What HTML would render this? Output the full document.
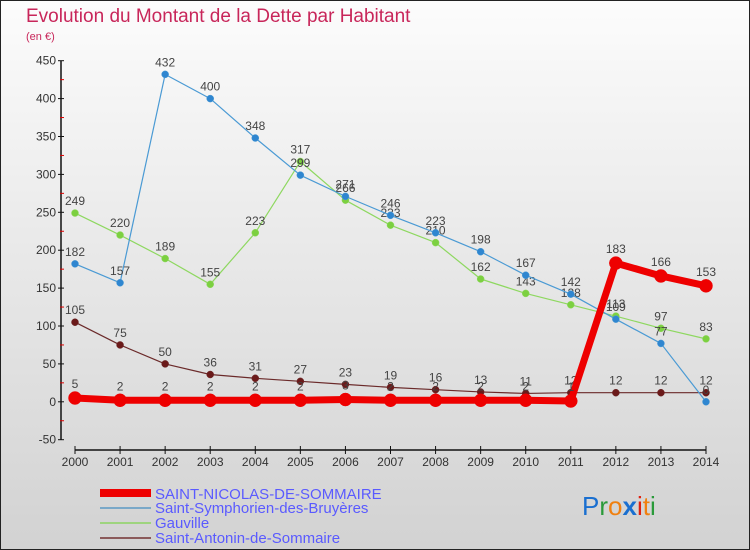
<!DOCTYPE html>
<html><head><meta charset="utf-8"><style>
html,body{margin:0;padding:0}
body{width:750px;height:550px;overflow:hidden;font-family:"Liberation Sans",sans-serif}
svg{display:block}
</style></head><body>
<svg width="750" height="550" viewBox="0 0 750 550" xmlns="http://www.w3.org/2000/svg">
<defs><linearGradient id="bg" x1="0" y1="0" x2="0" y2="1"><stop offset="0" stop-color="#fcfcfc"/><stop offset="1" stop-color="#d2d2d2"/></linearGradient></defs>
<rect x="0.5" y="0.5" width="749" height="549" fill="url(#bg)" stroke="#222"/>
<text x="26" y="22" font-size="19" fill="#c8265a">Evolution du Montant de la Dette par Habitant</text>
<text x="26" y="40" font-size="11" fill="#c8265a">(en €)</text>
<g id="axes"></g>
<g id="series"></g>
<g id="legend">
<rect x="100" y="489" width="51" height="8" fill="#e00"/>
<text x="155" y="499" font-size="15" fill="#5a5aff">SAINT-NICOLAS-DE-SOMMAIRE</text>
<rect x="100" y="507" width="51" height="2" fill="#7aa8c8"/>
<text x="155" y="513" font-size="15" fill="#5a5aff">Saint-Symphorien-des-Bruyères</text>
<rect x="100" y="522" width="51" height="2" fill="#9ed47e"/>
<text x="155" y="528" font-size="15" fill="#5a5aff">Gauville</text>
<rect x="100" y="537" width="51" height="2" fill="#8b5a5a"/>
<text x="155" y="543" font-size="15" fill="#5a5aff">Saint-Antonin-de-Sommaire</text>
</g>
<g font-size="26" font-family="Liberation Sans, sans-serif">
<text x="582" y="515"><tspan fill="#1a6fd0">P</tspan><tspan fill="#2a9a3a">r</tspan><tspan fill="#f08010">o</tspan><tspan fill="#1a6fd0" font-weight="bold">x</tspan><tspan fill="#e02010">i</tspan><tspan fill="#f08010">t</tspan><tspan fill="#2a9a3a">i</tspan></text>
</g>
</svg>
<script>
const years=[2000,2001,2002,2003,2004,2005,2006,2007,2008,2009,2010,2011,2012,2013,2014];
const yTicks=[-50,0,50,100,150,200,250,300,350,400,450];
const stNicolas=[5,2,2,2,2,2,3,2,2,2,2,1,183,166,153];
const stSymphorien=[182,157,432,400,348,299,271,246,223,198,167,142,109,77,0];
const gauville=[249,220,189,155,223,317,266,233,210,162,143,128,113,97,83];
const stAntonin=[105,75,50,36,31,27,23,19,16,13,11,12,12,12,12];
const NS="http://www.w3.org/2000/svg";
function X(i){return 75+i*(706-75)/(years.length-1);}
function Y(v){return 401.8-v*(379/500);}
function mk(tag,attrs,parent,text){const e=document.createElementNS(NS,tag);for(const k in attrs)e.setAttribute(k,attrs[k]);if(text!==undefined)e.textContent=text;parent.appendChild(e);return e;}
const axes=document.getElementById('axes');
let yl=mk('line',{x1:61,y1:Y(450),x2:61,y2:Y(-50),stroke:'#111','stroke-width':1.5},axes);


yTicks.forEach((t,i)=>{
 mk('line',{x1:58,y1:Y(t),x2:64,y2:Y(t),stroke:'#111'},axes);
 if(i<yTicks.length-1)mk('line',{x1:60,y1:Y(t+25),x2:64,y2:Y(t+25),stroke:'#d00'},axes);
 const tx=mk('text',{x:56,y:Y(t)+4,'font-size':12,'text-anchor':'end',fill:'#333'},axes,String(t));
 
 
});
let xl=mk('line',{x1:X(0),y1:450,x2:X(years.length-1),y2:450,stroke:'#111','stroke-width':1.5},axes);


years.forEach((yr,i)=>{
 mk('line',{x1:X(i),y1:446,x2:X(i),y2:454,stroke:'#111'},axes);
 const tx=mk('text',{x:X(i),y:466,'font-size':12,'text-anchor':'middle',fill:'#333'},axes,String(yr));
 
 
});
const sg=document.getElementById('series');
function draw(vals,color,w,r,name,dot){
 const g=mk('g',{},sg);
 
 
 const pl=mk('polyline',{points:vals.map((v,i)=>X(i)+','+Y(v)).join(' '),fill:'none',stroke:color,'stroke-width':w,'stroke-linejoin':'round'},g);
 
 
 vals.forEach((v,i)=>{
  const c=mk('circle',{cx:X(i),cy:Y(v),r:r,fill:dot,stroke:color,'stroke-width':0.5},g);
  
  
  const t=mk('text',{x:X(i),y:Y(v)-8-(r>5?2:0),'font-size':12,'text-anchor':'middle',fill:'#444'},g,String(v));
  
  
 });
}
draw(stAntonin,'#6b2a2a',1.2,3.5,'saint-antonin','#6b1a1a');
draw(gauville,'#8ed860',1.2,3.5,'gauville','#7cd040');
draw(stSymphorien,'#4a9ad4',1.2,3.5,'saint-symphorien','#2f86d0');
draw(stNicolas,'#ee0000',7,6.5,'saint-nicolas','#ee0000');
</script>
</body></html>
